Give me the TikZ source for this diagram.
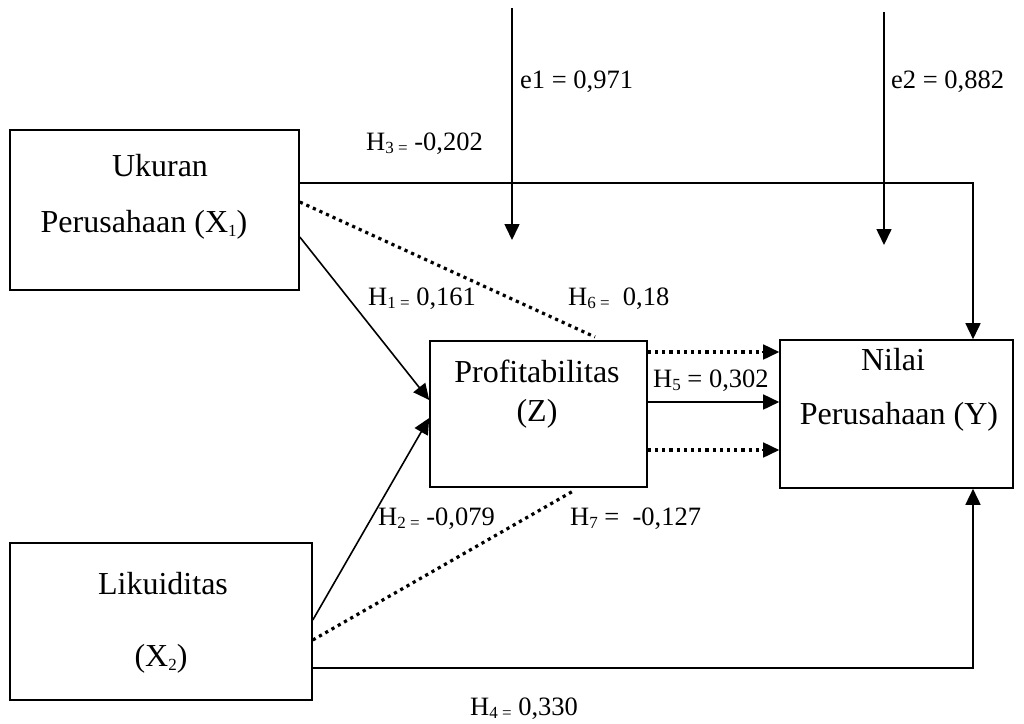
\documentclass[tikz,border=0pt]{standalone}
\usepackage{fontspec}
\setmainfont{Liberation Serif}
\usetikzlibrary{arrows.meta}
\newcommand\sbs[1]{\raisebox{-0.3ex}{\fontsize{17}{17}\selectfont #1}}
\begin{document}
\begin{tikzpicture}[x=1pt,y=-1pt,
  box/.style={draw,line width=1.6pt,inner sep=0pt,minimum width=#1},
  boxtxt/.style={font=\fontsize{32}{38}\selectfont,inner sep=0pt,anchor=base},
  lbl/.style={font=\fontsize{26.5}{30}\selectfont,inner sep=0pt,anchor=base west},
  arr/.style={line width=1.6pt,-{Triangle[length=16pt,width=15pt]}},
  dots/.style={line width=3.2pt,dash pattern=on 3.2pt off 4pt}]
\useasboundingbox (0,0) rectangle (1024,723);
% boxes
\node[box=289pt,minimum height=160pt] (uk) at (154.5,210) {};
\node[box=302pt,minimum height=157pt] (lq) at (161,621.5) {};
\node[box=217pt,minimum height=146pt] (pr) at (538.5,414) {};
\node[box=233pt,minimum height=148pt] (nl) at (896.5,414) {};
% box texts
\node[boxtxt] (uk1) at (160,176) {Ukuran};
\node[boxtxt] (uk2) at (144,232) {Perusahaan (X\sbs{1})};
\node[boxtxt] (lq1) at (163,594) {Likuiditas};
\node[boxtxt] (lq2) at (161,666) {(X\sbs{2})};
\node[boxtxt] (pr1) at (537,382) {Profitabilitas};
\node[boxtxt] (pr2) at (537,421) {(Z)};
\node[boxtxt] (nl1) at (893,370) {Nilai};
\node[boxtxt] (nl2) at (899,424) {Perusahaan (Y)};
% error terms
\coordinate (e1s) at (512,8);
\coordinate (e1t) at (512,240);
\coordinate (e2s) at (884,12);
\coordinate (e2t) at (884,245);
\draw[arr] (e1s) -- (e1t);
\draw[arr] (e2s) -- (e2t);
% solid paths
\draw[arr] (uk.east |- 0,183) -| (973,0 |- nl.north);
\draw[arr] (lq.east |- 0,668) -| (973,0 |- nl.south);
\draw[arr] (uk.east |- 0,237) -- (pr.west |- 0,400);
\draw[arr] (lq.east |- 0,620) -- (pr.west |- 0,418);
\draw[arr] (pr.east |- 0,402) -- (nl.west |- 0,402);
% dotted paths
\coordinate (h6e) at (595,337);
\coordinate (h7e) at (575,490);
\draw[dots] (uk.east |- 0,202) -- (h6e);
\draw[dots] (lq.east |- 0,640) -- (h7e);
\draw[dots,shorten >=16pt] (pr.east |- 0,352) -- (nl.west |- 0,352);
\draw[dots,shorten >=16pt] (pr.east |- 0,450) -- (nl.west |- 0,450);
\draw[arr] ([xshift=-17pt]nl.west |- 0,352) -- (nl.west |- 0,352);
\draw[arr] ([xshift=-17pt]nl.west |- 0,450) -- (nl.west |- 0,450);
% labels
\node[lbl] (le1) at (520,88) {e1 = 0,971};
\node[lbl] (le2) at (891,88) {e2 = 0,882};
\node[lbl] (lh3) at (366,150) {H\sbs{3 =} -0,202};
\node[lbl] (lh1) at (368,305) {H\sbs{1 =} 0,161};
\node[lbl] (lh6) at (568,305) {H\sbs{6 =}\ \ 0,18};
\node[lbl] (lh5) at (653,387) {H\sbs{5} = 0,302};
\node[lbl] (lh2) at (378,525) {H\sbs{2 =} -0,079};
\node[lbl] (lh7) at (570,525) {H\sbs{7} =\ \ -0,127};
\node[lbl] (lh4) at (470,715) {H\sbs{4 =} 0,330};
\end{tikzpicture}
\end{document}
